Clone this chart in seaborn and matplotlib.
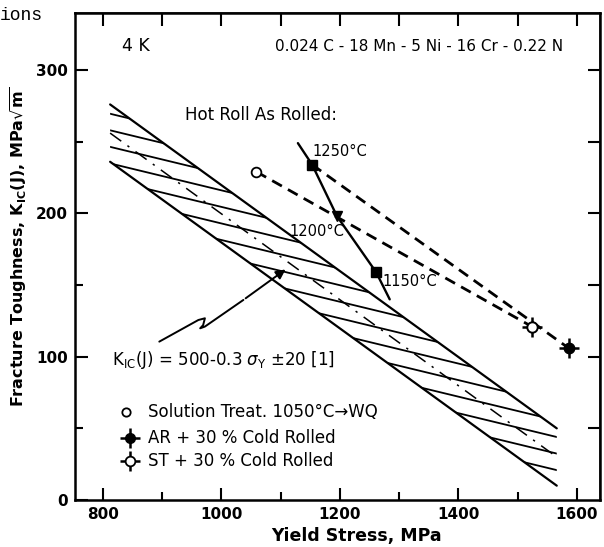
import numpy as np
import matplotlib
matplotlib.use('Agg')
import matplotlib.pyplot as plt
import seaborn as sns
from matplotlib.patches import Polygon

sns.set_theme(style='white')
plt.rcParams['font.family'] = ['DejaVu Sans']
plt.rcParams['mathtext.fontset'] = 'dejavusans'
plt.rcParams['text.color'] = 'black'
plt.rcParams['axes.labelcolor'] = 'black'
plt.rcParams['xtick.color'] = 'black'
plt.rcParams['ytick.color'] = 'black'

# scatter band: K_IC(J) = 500 - 0.3 sigma_Y +/- 20
band_sigma = [812, 1566]
band_upper = [276, 50]
band_center = [256, 30]
band_lower = [236, 10]

# hot roll, as rolled (finish temperatures)
hot_labels = ['1250°C', '1200°C', '1150°C']
hot_sigma = [1153, 1195, 1261]
hot_K = [234, 198, 159]
hot_line_sigma = [1129, 1153, 1195, 1261, 1284]
hot_line_K = [249, 234, 198, 159, 140]

# solution treated 1050C -> WQ
st_sigma = [1059]
st_K = [229]

# + 30 % cold rolled
ar_cr_sigma = [1586]
ar_cr_K = [106]
st_cr_sigma = [1524]
st_cr_K = [121]

fig = plt.figure(figsize=(6.04, 5.47), dpi=100)
ax = fig.add_axes([75 / 604, 47 / 547, 525 / 604, 487 / 547])

# band outline + centre line
sns.lineplot(x=band_sigma, y=band_upper, ax=ax, color='black', lw=1.6)
sns.lineplot(x=band_sigma, y=band_lower, ax=ax, color='black', lw=1.6)
sns.lineplot(x=band_sigma, y=band_center, ax=ax, color='black', lw=1.1,
             linestyle=(0, (9, 5, 1.5, 5)))

# shallow hatch lines inside the band
poly = Polygon([[band_sigma[0], band_upper[0]], [band_sigma[1], band_upper[1]],
                [band_sigma[1], band_lower[1]], [band_sigma[0], band_lower[0]]],
               closed=True, transform=ax.transData, facecolor='none', edgecolor='none')
ax.add_patch(poly)
for c in np.arange(350.7, 165, -11.55):
    ln, = ax.plot([780, 1620], [c - 0.1 * 780, c - 0.1 * 1620], color='black', lw=1.3)
    ln.set_clip_path(poly)

# hot roll line and dashed cold-roll lines
sns.lineplot(x=hot_line_sigma, y=hot_line_K, ax=ax, color='black', lw=1.7)
sns.lineplot(x=[hot_sigma[0], ar_cr_sigma[0]], y=[hot_K[0], ar_cr_K[0]], ax=ax,
             color='black', lw=2.0, linestyle=(0, (4, 2.5)))
sns.lineplot(x=[st_sigma[0], st_cr_sigma[0]], y=[st_K[0], st_cr_K[0]], ax=ax,
             color='black', lw=2.0, linestyle=(0, (4, 2.5)))

# markers
ax.plot([hot_sigma[0], hot_sigma[2]], [hot_K[0], hot_K[2]], 's', color='black', ms=6.5)
ax.plot(hot_sigma[1], hot_K[1], 'v', color='black', ms=6.5)
ax.plot(st_sigma, st_K, 'o', mfc='white', mec='black', mew=1.3, ms=7)
ax.plot(ar_cr_sigma, ar_cr_K, '+', color='black', mew=1.8, ms=14)
ax.plot(ar_cr_sigma, ar_cr_K, 'o', color='black', ms=7.5)
ax.plot(st_cr_sigma, st_cr_K, '+', color='black', mew=1.8, ms=14)
ax.plot(st_cr_sigma, st_cr_K, 'o', mfc='white', mec='black', mew=1.4, ms=7.5)

# text labels
ax.text(832, 316.5, '4 K', fontsize=12.5, va='center')
ax.text(1090, 316.5, '0.024 C - 18 Mn - 5 Ni - 16 Cr - 0.22 N', fontsize=11, va='center')
ax.text(939, 268.7, 'Hot Roll As Rolled:', fontsize=12, va='center')
ax.text(1153, 243.5, hot_labels[0], fontsize=10.5, va='center')
ax.text(1114, 187, hot_labels[1], fontsize=10.5, va='center')
ax.text(1271, 152.3, hot_labels[2], fontsize=10.5, va='center')
ax.text(815, 97.7, r'$\mathrm{K_{IC}}$(J) = 500-0.3 $\sigma_\mathrm{Y}$ ±20 [1]',
        fontsize=12, va='center')

# squiggly arrow to the band
arrow_x = [895, 961, 972, 969, 964, 972, 1037]
arrow_y = [110.5, 125.6, 126.8, 122, 119.8, 121, 139.6]
ax.plot(arrow_x, arrow_y, color='black', lw=1.4)
ax.annotate('', xy=(1112, 162), xytext=(arrow_x[-1], arrow_y[-1]),
            arrowprops=dict(arrowstyle='-|>', color='black', lw=1.4, mutation_scale=14))

# hand-drawn key
tr = ax.transAxes
ax.plot(0.097, 0.1807, 'o', mfc='white', mec='black', mew=1.3, ms=6, transform=tr)
ax.plot(0.1048, 0.1273, '+', color='black', mew=1.8, ms=14, transform=tr)
ax.plot(0.1048, 0.1273, 'o', color='black', ms=7, transform=tr)
ax.plot(0.1048, 0.0801, '+', color='black', mew=1.8, ms=14, transform=tr)
ax.plot(0.1048, 0.0801, 'o', mfc='white', mec='black', mew=1.3, ms=7, transform=tr)
ax.text(0.139, 0.1807, 'Solution Treat. 1050°C→WQ', fontsize=12, va='center', transform=tr)
ax.text(0.139, 0.1273, 'AR + 30 % Cold Rolled', fontsize=12, va='center', transform=tr)
ax.text(0.139, 0.0801, 'ST + 30 % Cold Rolled', fontsize=12, va='center', transform=tr)

# axes, ticks
ax.set_xlim(752.7, 1639)
ax.set_ylim(0, 339.8)
ax.set_xticks([800, 1000, 1200, 1400, 1600])
ax.set_xticks([900, 1100, 1300, 1500], minor=True)
ax.set_yticks([0, 100, 200, 300])
ax.set_yticks([50, 150, 250], minor=True)
ax.tick_params(which='both', direction='in', color='black', width=1.5,
               labelsize=11, pad=5, bottom=True, left=True)
ax.tick_params(which='major', length=9)
ax.tick_params(which='minor', length=6)
for lab in ax.get_xticklabels() + ax.get_yticklabels():
    lab.set_fontweight('bold')
for sp in ax.spines.values():
    sp.set_color('black')
    sp.set_linewidth(1.8)

top = ax.secondary_xaxis('top')
top.set_xticks(np.arange(800, 1601, 100))
top.tick_params(direction='in', length=9, width=1.5, labeltop=False, color='black')
right = ax.secondary_yaxis('right')
right.set_yticks(np.arange(50, 301, 50))
right.tick_params(direction='in', length=9, width=1.5, labelright=False, color='black')

ax.set_xlabel('Yield Stress, MPa', fontsize=12.5, fontweight='bold')
ax.xaxis.set_label_coords((357 - 75) / 525, -0.055)
ax.set_ylabel(r'Fracture Toughness, $\mathbf{K_{IC}}$(J), MPa$\sqrt{\mathbf{m}}$',
              fontsize=11.5, fontweight='bold')
ax.yaxis.set_label_coords(-0.088, 0.52)

fig.text(0.0, 1 - 15 / 547, 'ions', fontsize=13, va='center', family='Liberation Mono')

fig.savefig('out.png', dpi=100)
